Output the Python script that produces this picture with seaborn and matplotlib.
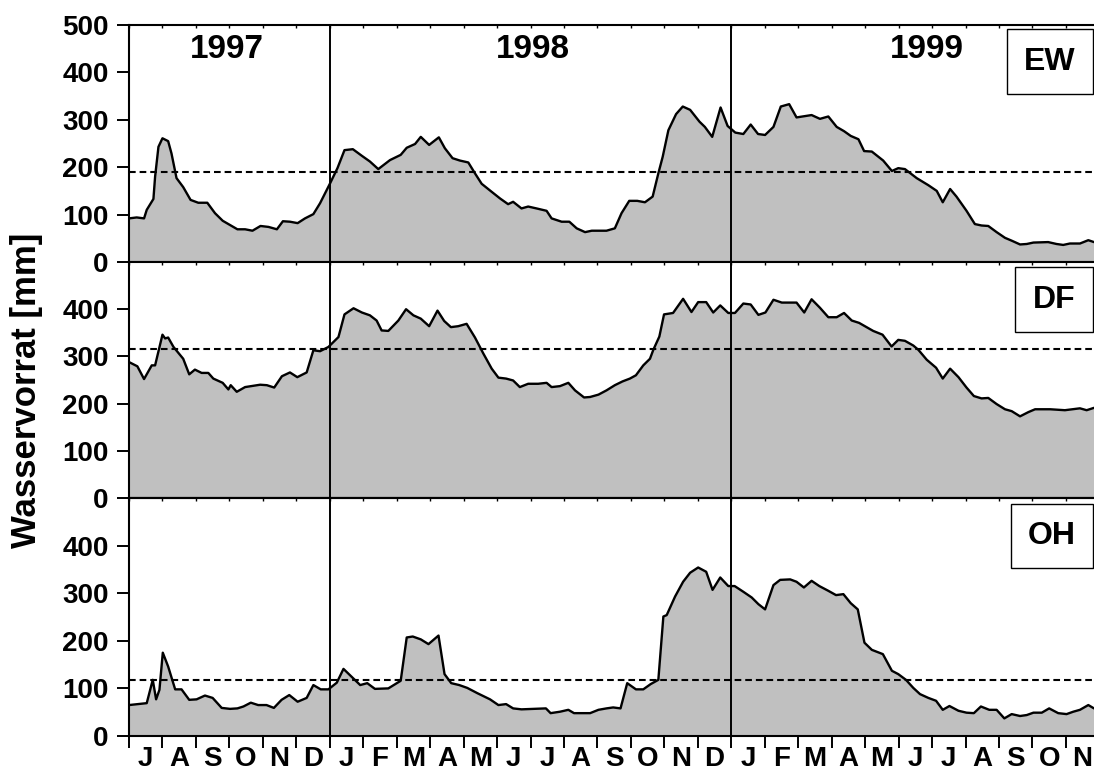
import numpy as np
import pandas as pd
import matplotlib
matplotlib.use("Agg")
import matplotlib.pyplot as plt
from matplotlib.patches import Rectangle
import seaborn as sns

# x = months since 1 July 1997
month_letters = ["J", "A", "S", "O", "N", "D",
                 "J", "F", "M", "A", "M", "J", "J", "A", "S", "O", "N", "D",
                 "J", "F", "M", "A", "M", "J", "J", "A", "S", "O", "N"]
years = ["1997", "1998", "1999"]
year_label_pos = [2.93, 12.07, 23.85]
year_breaks = [6, 18]

ew_t = [0.0, 0.23, 0.45, 0.53, 0.73, 0.78, 0.88, 1.0, 1.17, 1.27, 1.42, 1.62, 1.84, 2.07, 2.34, 2.57,
        2.80, 3.02, 3.24, 3.47, 3.69, 3.93, 4.17, 4.42, 4.60, 4.81, 5.04, 5.26, 5.51, 5.71, 6.01, 6.23,
        6.44, 6.69, 6.96, 7.20, 7.45, 7.80, 8.12, 8.30, 8.55, 8.72, 8.97, 9.26, 9.44, 9.67, 9.89, 10.14,
        10.34, 10.54, 10.84, 11.09, 11.33, 11.48, 11.73, 11.93, 12.18, 12.48, 12.63, 12.93, 13.16, 13.38,
        13.63, 13.83, 14.27, 14.52, 14.72, 14.95, 15.19, 15.42, 15.65, 15.82, 15.95, 16.12, 16.35, 16.55,
        16.77, 17.05, 17.21, 17.43, 17.68, 17.89, 18.12, 18.36, 18.58, 18.80, 19.01, 19.26, 19.48, 19.73,
        19.95, 20.40, 20.65, 20.90, 21.15, 21.37, 21.57, 21.80, 21.97, 22.20, 22.54, 22.80, 22.99, 23.19,
        23.54, 23.89, 24.14, 24.32, 24.54, 24.73, 25.03, 25.28, 25.48, 25.68, 25.93, 26.18, 26.38, 26.63,
        26.83, 27.03, 27.47, 27.72, 27.92, 28.12, 28.42, 28.67, 28.84]
ew_v = [92, 94, 92, 110, 133, 180, 243, 261, 255, 229, 177, 158, 131, 125, 125, 103,
        87, 78, 69, 69, 66, 76, 74, 69, 86, 85, 82, 92, 101, 124, 166, 198,
        236, 238, 224, 212, 196, 215, 226, 241, 249, 264, 247, 263, 240, 219, 214, 210,
        187, 165, 148, 134, 122, 127, 113, 117, 113, 108, 92, 85, 85, 71,
        63, 66, 66, 71, 103, 129, 129, 126, 138, 187, 222, 278, 312, 328,
        321, 296, 285, 264, 326, 287, 273, 270, 290, 270, 268, 285, 328, 333,
        305, 310, 302, 307, 285, 276, 266, 259, 234, 233, 214, 192, 198, 196,
        177, 162, 150, 126, 154, 138, 108, 80, 77, 76, 63, 51, 45, 37,
        38, 41, 42, 38, 36, 39, 39, 46, 42]

df_t = [0.0, 0.25, 0.45, 0.68, 0.78, 0.91, 1.00, 1.08, 1.17, 1.33, 1.62, 1.80, 1.97, 2.17, 2.37, 2.52,
        2.80, 2.97, 3.04, 3.22, 3.47, 3.92, 4.12, 4.34, 4.57, 4.81, 5.03, 5.31, 5.51, 5.71, 5.96, 6.26,
        6.44, 6.71, 6.96, 7.20, 7.40, 7.55, 7.75, 8.05, 8.28, 8.50, 8.72, 8.97, 9.22, 9.42, 9.62, 9.84,
        10.09, 10.34, 10.59, 10.84, 11.04, 11.27, 11.48, 11.68, 11.93, 12.23, 12.48, 12.63, 12.88, 13.13,
        13.33, 13.60, 13.78, 14.03, 14.27, 14.52, 14.75, 14.97, 15.15, 15.37, 15.57, 15.67, 15.85, 15.99,
        16.26, 16.56, 16.81, 17.01, 17.25, 17.46, 17.67, 17.91, 18.11, 18.36, 18.58, 18.81, 19.02, 19.26,
        19.51, 19.95, 20.18, 20.40, 20.65, 20.90, 21.15, 21.37, 21.60, 21.82, 22.04, 22.24, 22.52, 22.79,
        22.99, 23.19, 23.44, 23.59, 23.84, 24.12, 24.32, 24.54, 24.79, 25.03, 25.25, 25.48, 25.68, 25.93,
        26.18, 26.38, 26.63, 26.88, 27.08, 27.53, 27.97, 28.42, 28.62, 28.84]
df_v = [288, 279, 252, 281, 281, 320, 346, 338, 340, 320, 295, 262, 272, 265, 265, 253,
        244, 230, 239, 225, 235, 240, 239, 234, 258, 266, 256, 266, 313, 311, 320, 341,
        389, 402, 393, 387, 376, 355, 354, 376, 400, 387, 380, 364, 397, 375, 362, 364,
        369, 340, 306, 274, 255, 253, 249, 235, 242, 242, 244, 235, 237, 244,
        228, 213, 214, 219, 228, 239, 247, 253, 260, 281, 295, 314, 342, 389,
        392, 422, 394, 415, 415, 393, 408, 392, 392, 412, 410, 388, 393, 420,
        414, 414, 393, 421, 403, 383, 383, 392, 376, 371, 362, 354, 346, 321,
        335, 333, 323, 314, 293, 276, 253, 274, 256, 234, 216, 211, 212, 199,
        188, 184, 173, 182, 188, 188, 186, 190, 186, 191]

oh_t = [0.0, 0.53, 0.71, 0.81, 0.91, 1.01, 1.17, 1.38, 1.57, 1.80, 2.02, 2.27, 2.50, 2.77, 3.02, 3.24,
        3.42, 3.64, 3.86, 4.11, 4.33, 4.56, 4.79, 5.04, 5.31, 5.51, 5.73, 5.96, 6.21, 6.41, 6.91, 7.12,
        7.35, 7.75, 8.12, 8.30, 8.48, 8.72, 8.95, 9.25, 9.43, 9.63, 9.87, 10.11, 10.41, 10.79, 11.04, 11.27,
        11.48, 11.73, 12.46, 12.60, 12.88, 13.13, 13.30, 13.78, 14.03, 14.27, 14.47, 14.69, 14.89, 15.15,
        15.37, 15.59, 15.82, 15.97, 16.07, 16.32, 16.56, 16.77, 17.01, 17.25, 17.44, 17.67, 17.91, 18.10,
        18.36, 18.61, 18.81, 19.01, 19.26, 19.46, 19.76, 19.95, 20.17, 20.40, 20.63, 20.90, 21.13, 21.35,
        21.57, 21.78, 21.98, 22.20, 22.53, 22.80, 22.99, 23.22, 23.44, 23.64, 23.89, 24.12, 24.32, 24.52,
        24.79, 25.03, 25.25, 25.46, 25.71, 25.93, 26.16, 26.38, 26.63, 26.83, 27.03, 27.28, 27.50, 27.77,
        28.02, 28.22, 28.42, 28.67, 28.84]
oh_v = [65, 69, 118, 77, 97, 175, 146, 98, 98, 76, 77, 85, 80, 59, 57, 58,
        62, 70, 65, 65, 59, 76, 86, 72, 80, 107, 98, 98, 112, 141, 107, 111,
        99, 100, 116, 207, 209, 203, 193, 211, 130, 111, 107, 101, 90, 77, 65, 67,
        58, 56, 58, 48, 51, 55, 48, 48, 55, 58, 60, 58, 111, 98,
        98, 109, 118, 251, 254, 293, 324, 343, 354, 345, 307, 333, 315, 315,
        303, 291, 277, 266, 317, 328, 329, 324, 312, 326, 315, 305, 296, 298,
        279, 266, 196, 181, 172, 137, 130, 118, 101, 88, 80, 74, 55, 63,
        53, 49, 48, 62, 55, 55, 37, 46, 42, 44, 49, 49, 58, 48,
        46, 51, 55, 65, 58]

sites = ["EW", "DF", "OH"]
thresholds = [190, 315, 117]

sns.set_style("ticks")
plt.rcParams["font.family"] = ["Liberation Sans", "DejaVu Sans"]
plt.rcParams["font.weight"] = "bold"
plt.rcParams["text.color"] = "black"
plt.rcParams["axes.labelcolor"] = "black"
plt.rcParams["xtick.color"] = "black"
plt.rcParams["ytick.color"] = "black"
plt.rcParams["axes.edgecolor"] = "black"

W, H = 1094, 776
fig = plt.figure(figsize=(W / 100, H / 100), dpi=100)

# panel extents in pixels (top, bottom)
panel_px = [(25, 262), (262, 498), (498, 736)]
box_px = [(1007, 29, 1093, 94), (1015, 267, 1093, 332), (1011, 504, 1093, 568)]
series = [(ew_t, ew_v), (df_t, df_v), (oh_t, oh_v)]
x_left, x_right = 129, 1094
xmax = 28.84

axes = []
for i, (site, thr, (t, v)) in enumerate(zip(sites, thresholds, series)):
    top, bot = panel_px[i]
    ax = fig.add_axes([x_left / W, 1 - bot / H, (x_right - x_left) / W, (bot - top) / H])
    axes.append(ax)
    d = pd.DataFrame({"t": t, "v": v})
    ax.fill_between(d["t"], 0, d["v"], color="#c0c0c0", lw=0, zorder=1)
    sns.lineplot(data=d, x="t", y="v", ax=ax, color="black", lw=1.7, estimator=None, zorder=3)
    ax.axhline(thr, color="black", lw=1.5, ls=(0, (3.2, 1.9)), zorder=4)
    for yb in year_breaks:
        ax.axvline(yb, color="black", lw=1.4, zorder=5)

    ax.set_xlim(0, xmax)
    ax.set_ylim(0, 500)
    ax.set_xlabel("")
    ax.set_ylabel("")
    ax.set_yticks([0, 100, 200, 300, 400, 500] if i == 0 else [0, 100, 200, 300, 400])
    ax.tick_params(axis="y", direction="out", length=8.6, width=1.4, pad=6, labelsize=20,
                   colors="black")
    for lab in ax.get_yticklabels():
        lab.set_fontweight("bold")
    for s in ["left", "top", "bottom"]:
        ax.spines[s].set_linewidth(1.5)
        ax.spines[s].set_color("black")
    ax.spines["right"].set_visible(False)

    ax.set_xticks(np.arange(0, 29))
    if i < 2:
        ax.tick_params(axis="x", which="major", direction="in", length=2.5, width=1,
                       top=True, bottom=True, labelbottom=False)
    else:
        ax.set_xticks(np.arange(len(month_letters)) + 0.5, minor=True)
        ax.set_xticklabels([], minor=False)
        ax.set_xticklabels(month_letters, minor=True, fontsize=20, fontweight="bold")
        ax.tick_params(axis="x", which="major", direction="out", length=8.6, width=1.4)
        ax.tick_params(axis="x", which="minor", length=0, pad=7, colors="black")
        sec = ax.secondary_xaxis("top")
        sec.set_xticks(np.arange(0, 29))
        sec.set_xticklabels([])
        sec.tick_params(direction="in", length=2.5, width=1)
        sec.spines["top"].set_linewidth(1.5)

    # site box
    bx0, by0, bx1, by1 = box_px[i]
    ph = bot - top
    rect = Rectangle(((bx0 - x_left) / (x_right - x_left), (bot - by1) / ph),
                     (bx1 - bx0) / (x_right - x_left), (by1 - by0) / ph,
                     transform=ax.transAxes, facecolor="white", edgecolor="black", lw=1.0, zorder=6)
    ax.add_patch(rect)
    ax.text(((bx0 + bx1) / 2 - x_left) / (x_right - x_left), (bot - (by0 + by1) / 2) / ph, site,
            transform=ax.transAxes, ha="center", va="center", fontsize=23, fontweight="bold",
            color="black", zorder=7)

for yl, ypos in zip(years, year_label_pos):
    axes[0].text(ypos, 449, yl, ha="center", va="center", fontsize=24, fontweight="bold",
                 color="black", zorder=7)

fig.text(27 / W, 1 - 390 / H, "Wasservorrat [mm]", rotation=90, ha="center", va="center",
         fontsize=25, fontweight="bold", color="black")

fig.savefig("out.png", dpi=100)
